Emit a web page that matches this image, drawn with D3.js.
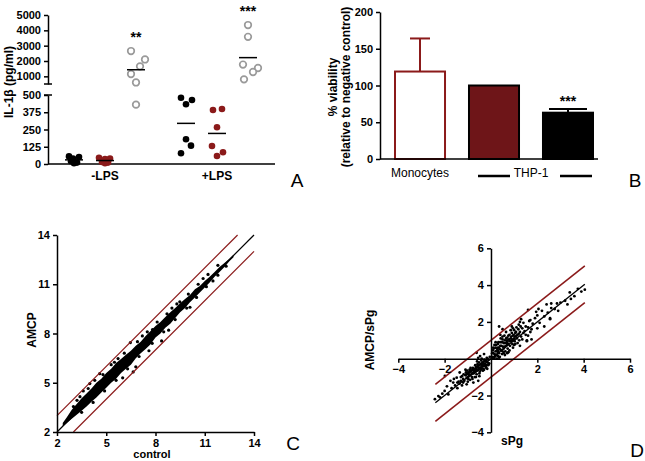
<!DOCTYPE html>
<html><head><meta charset="utf-8">
<script src="https://cdn.jsdelivr.net/npm/d3@7"></script>
<style>
body{margin:0;background:#fff;}
svg{display:block;font-family:"Liberation Sans",Arial,sans-serif;}
.axis path,.axis line{stroke:#000;stroke-width:1.5;}
</style></head><body>
<svg id="fig" width="645" height="461"></svg>
<script>
// ---------- Panel A data ----------
const ilGroups = ["-LPS", "+LPS"];
const ilSeries = ["black", "red", "gray"];
const ilMinusBlack = [55, 50, 40, 20, 10, 5];
const ilMinusRed = [45, 40, 35, 15, 10, 5];
const ilMinusGray = [2650, 2100, 1650, 1150, 600, 430];
const ilPlusBlack = [480, 433, 464, 179, 133, 78];
const ilPlusRed = [391, 399, 266, 130, 85, 58];
const ilPlusGray = [4344, 3577, 1767, 1544, 1282, 803];
const ilUpperTicks = [1000, 2000, 3000, 4000, 5000];
const ilLowerTicks = [0, 125, 250, 375, 500];
const ilStars = {"-LPS": "**", "+LPS": "***"};

// ---------- Panel B data ----------
const vCategories = ["Monocytes", "THP-1 a", "THP-1 b"];
const vValues = [119, 100, 63];
const vErrors = [45, 0, 5];
const vTicks = [0, 50, 100, 150, 200];

// ---------- Panel C data (cloud envelope + scattered points) ----------
const cTicks = [2, 5, 8, 11, 14];
const cCloudX  = [2.35,2.6,2.9,3.2,3.5,3.8,4.1,4.4,4.7,5.0,5.3,5.6,5.9,6.2,6.5,6.8,7.1,7.4,7.7,8.0,8.3,8.6,8.9,9.2,9.5,9.8,10.1,10.4,10.7,11.0,11.3,11.6,11.9,12.2,12.5,12.75];
const cCloudLo = [2.35,2.55,2.8,3.05,3.3,3.55,3.85,4.1,4.4,4.7,5.0,5.25,5.6,5.85,6.1,6.5,6.8,7.05,7.35,7.75,8.0,8.35,8.6,8.95,9.3,9.55,9.9,10.2,10.5,10.8,11.1,11.45,11.75,12.05,12.4,12.65];
const cCloudHi = [2.55,2.9,3.35,3.7,4.05,4.35,4.65,5.0,5.25,5.6,5.85,6.2,6.45,6.7,6.95,7.25,7.5,7.85,8.15,8.45,8.7,9.0,9.3,9.55,9.85,10.1,10.35,10.7,10.9,11.2,11.45,11.75,12.05,12.3,12.55,12.8];
const cOutX = [3.22,5.72,6.47,7.82,8.37,6.8,6.64,9.48,4.0,4.6,5.3,7.2,7.6,9.0,10.1,10.9,3.6,6.0,8.8,11.5,
  3.0,3.4,3.9,4.3,4.8,5.5,6.1,6.9,7.5,8.1,8.7,9.3,10.0,10.6,11.2,11.8,3.5,4.2,4.9,5.6,6.3,7.0,7.8,8.5,9.2,9.9,10.5,11.1,11.8,12.3];
const cOutY = [3.93,6.47,7.45,8.24,7.55,5.97,5.66,9.93,4.95,5.55,6.1,7.85,6.95,9.55,9.6,11.35,4.5,5.3,8.2,11.2,
  3.55,4.15,4.65,5.15,5.5,6.25,6.8,7.5,8.1,8.7,9.2,9.8,10.4,11.0,11.6,12.15,3.2,3.8,4.5,5.15,5.85,6.6,7.4,8.1,8.85,9.55,10.2,10.85,11.55,12.1];

// ---------- Panel D data ----------
const dTicks = [-4, -2, 2, 4, 6];
const dX = [-0.1,-0.15,-0.2,-0.25,-0.3,-0.35,-0.4,-0.45,-0.5,-0.55,-0.6,-0.65,-0.7,-0.75,-0.8,-0.85,-0.9,-0.95,-1.0,-1.05,-1.1,-1.2,-1.3,-1.4,-0.12,-0.18,-0.28,-0.33,-0.42,-0.48,-0.52,-0.58,-0.62,-0.68,-0.72,-0.78,-0.82,-0.88,-0.92,-0.98,-1.02,-1.08,-1.15,-1.18,-1.25,-1.35,-0.22,-0.38,-0.44,-0.56,-0.64,-0.74,-0.86,-0.96,-0.08,-0.3,-0.5,-0.7,-0.9,-0.16,
 -0.1,-0.2,-0.3,-0.4,-0.5,-0.6,-0.7,-0.8,-0.9,-1.0,-0.15,-0.25,-0.35,-0.45,-0.55,-0.65,-0.75,-0.85,-0.95,-1.05,-0.2,-0.35,-0.5,-0.65,-0.8,-1.0,-1.2,-1.1,-1.3,-1.45,-0.05,-0.4,-0.55,-0.6,-0.3,
 0.05,0.1,0.15,0.2,0.25,0.3,0.35,0.4,0.45,0.5,0.55,0.6,0.65,0.7,0.75,0.8,0.85,0.9,0.95,1.0,1.05,1.1,1.15,1.2,1.25,1.3,1.35,1.4,1.45,1.5,0.12,0.18,0.22,0.28,0.32,0.38,0.42,0.48,0.52,0.58,0.62,0.68,0.72,0.78,0.82,0.88,0.92,0.98,1.02,1.08,1.12,1.18,1.22,1.28,0.08,0.3,0.55,0.75,0.95,1.6,1.7,1.65,1.8,1.9,1.55,0.4,0.65,0.2,0.9,1.0,
 0.1,0.15,0.25,0.35,0.45,0.5,0.6,0.7,0.8,0.85,0.95,1.05,1.15,1.25,1.35,1.4,1.5,1.6,1.7,1.75,0.3,0.4,0.5,0.6,0.7,0.8,0.9,1.0,1.1,1.2,0.15,0.25,0.35,0.45,0.55,0.65,0.75,0.85,0.95,1.05,0.2,0.3,0.4,0.5,0.6,0.7,0.05,0.1,0.2,0.3,
 2.0,2.1,2.2,2.3,2.45,2.55,2.6,2.75,2.85,2.9,3.0,3.2,3.3,3.4,3.45,3.6,3.75,3.9,4.05,1.6,1.3,2.05,2.55,1.25,1.55,1.75,2.3,0.5,0.35,2.6,2.0,1.95,2.4,
 -2.42,-2.27,-1.84,-1.63,-1.99,-1.48,-1.05,-0.76,-0.62,-0.47,-1.7,-1.55,-2.1,-1.9,-1.45,-1.25,-1.6,-2.2,-0.3,-1.35,-0.55,-1.75,-2.0];
const dY = [-0.05,-0.2,-0.1,-0.3,-0.15,-0.4,-0.25,-0.5,-0.35,-0.6,-0.45,-0.7,-0.55,-0.8,-0.6,-0.85,-0.7,-0.95,-0.8,-1.05,-0.9,-1.1,-1.0,-1.25,-0.35,0.05,-0.05,-0.55,-0.1,-0.7,-0.2,-0.3,-0.85,-0.35,-0.65,-0.5,-1.0,-0.5,-0.6,-1.1,-0.65,-0.75,-1.2,-0.85,-0.95,-1.35,-0.45,-0.35,-0.6,-0.45,-0.55,-0.75,-0.7,-0.85,-0.25,-0.6,-0.8,-1.0,-1.15,-0.55,
 -0.3,-0.35,-0.4,-0.5,-0.55,-0.65,-0.75,-0.8,-0.9,-1.0,0.0,-0.15,-0.2,-0.3,-0.4,-0.45,-0.6,-0.65,-0.75,-0.85,-0.5,-0.65,-0.95,-1.0,-1.1,-1.25,-1.3,-0.6,-1.2,-1.3,0.1,0.0,0.05,-0.15,-0.3,
 0.1,0.3,0.05,0.4,0.2,0.6,0.3,0.7,0.45,0.9,0.55,1.0,0.7,1.15,0.8,1.3,0.95,1.4,1.05,1.55,1.2,1.7,1.3,1.85,1.45,1.2,1.65,1.95,1.5,1.3,0.55,0.15,0.75,0.45,0.9,0.1,1.1,0.25,0.65,1.25,0.4,0.9,0.55,1.05,0.7,1.2,0.8,1.3,0.95,1.45,1.1,1.6,1.0,1.75,0.45,0.15,0.3,0.35,0.6,1.7,1.45,2.05,1.9,2.2,1.0,1.3,1.45,0.9,1.75,0.75,
 0.6,0.75,0.0,0.05,0.9,1.2,0.2,0.3,0.45,1.55,1.65,0.8,0.85,2.0,1.05,1.4,1.75,1.25,2.1,1.6,0.35,0.5,0.4,0.65,0.8,0.95,1.0,1.1,1.25,1.35,0.25,0.55,0.6,0.7,0.85,1.1,1.25,1.1,1.25,1.4,0.6,0.8,0.9,1.05,0.85,1.0,0.3,0.0,0.2,0.45,
 2.35,1.95,2.6,2.3,2.5,2.15,2.75,2.7,3.0,2.6,3.05,3.15,2.95,3.6,3.25,3.4,3.8,3.65,3.75,2.65,2.15,2.7,2.2,0.7,0.95,1.05,1.75,1.6,1.75,3.0,1.65,2.55,2.95,
 -2.2,-2.03,-1.94,-1.3,-0.94,-1.03,-1.39,-1.3,0.32,0.14,-1.6,-1.45,-1.9,-1.5,-1.6,-1.45,-1.1,-2.1,0.25,-0.75,-1.2,-1.2,-1.75];

const RED = "#8b1a1a";
const TICK_FS = "11px";
const LABEL_FS = "12px";
const svg = d3.select("#fig");

function styleAxis(g){
  g.attr("class","axis");
  g.selectAll(".tick text").attr("font-weight","bold").style("font-size",TICK_FS).attr("fill","#000");
}

// ================= Panel A =================
(function(){
  const g = svg.append("g");
  const yUp = d3.scaleLinear().domain([500, 5000]).range([84, 15]);
  const yLo = d3.scaleLinear().domain([0, 500]).range([164, 95]);
  const yv = v => v > 500 ? yUp(v) : yLo(v);
  const xOuter = d3.scalePoint().domain(ilGroups).range([48, 274]).padding(0.509);
  const xInner = d3.scalePoint().domain(ilSeries).range([-31, 31]);
  const jitter = {
    "-LPS": {black:[-5,5,-1,-3,3,0], red:[-6,5,0,-3,3,0], gray:[-5,9,4,-5,0,0]},
    "+LPS": {black:[-5,0,6,0,5,-5], red:[-4,5,0,-5,6,0], gray:[0,0,-5,10,5,-4]}
  };
  const data = {
    "-LPS": {black: ilMinusBlack, red: ilMinusRed, gray: ilMinusGray},
    "+LPS": {black: ilPlusBlack, red: ilPlusRed, gray: ilPlusGray}
  };
  g.append("g").attr("transform","translate(48,0)")
    .call(d3.axisLeft(yUp).tickValues(ilUpperTicks).tickSize(4).tickSizeOuter(0).tickFormat(d3.format("d")))
    .call(styleAxis);
  g.append("g").attr("transform","translate(48,0)")
    .call(d3.axisLeft(yLo).tickValues(ilLowerTicks).tickSize(4).tickSizeOuter(0).tickFormat(d3.format("d")))
    .call(styleAxis);
  g.append("line").attr("x1",44).attr("x2",52).attr("y1",yUp(500)).attr("y2",yUp(500)).attr("stroke","#000").attr("stroke-width",1.5);
  g.append("line").attr("x1",44).attr("x2",52).attr("y1",yLo(500)).attr("y2",yLo(500)).attr("stroke","#000").attr("stroke-width",1.5);
  g.append("line").attr("x1",48).attr("x2",275).attr("y1",yLo(0)).attr("y2",yLo(0)).attr("stroke","#000").attr("stroke-width",1.5);
  ilGroups.forEach(grp=>{
    g.append("text").attr("x",xOuter(grp)).attr("y",180).attr("text-anchor","middle")
      .attr("font-weight","bold").attr("font-size",LABEL_FS).text(grp);
    ilSeries.forEach(s=>{
      const cx = xOuter(grp) + xInner(s);
      const vals = data[grp][s];
      vals.forEach((v,i)=>{
        const c = g.append("circle").attr("cx", cx + jitter[grp][s][i]).attr("cy", yv(v)).attr("r", 3.3);
        if (s==="gray") c.attr("fill","#fff").attr("stroke","#9a9a9a").attr("stroke-width",1.7);
        else c.attr("fill", s==="black" ? "#000" : RED);
      });
      const m = d3.mean(vals);
      g.append("line").attr("x1",cx-9).attr("x2",cx+9).attr("y1",yv(m)).attr("y2",yv(m))
        .attr("stroke","#000").attr("stroke-width",1.5);
      if (s==="gray") {
        g.append("text").attr("x",cx).attr("y", yv(d3.max(vals)) - 9).attr("text-anchor","middle")
          .attr("font-weight","bold").attr("font-size","14px").text(ilStars[grp]);
      }
    });
  });
  g.append("text").attr("transform","translate(13,82) rotate(-90)").attr("text-anchor","middle")
    .attr("font-weight","bold").attr("font-size",LABEL_FS).text("IL-1β (pg/ml)");
  g.append("text").attr("x",297).attr("y",187).attr("text-anchor","middle").attr("font-size","19px").text("A");
})();

// ================= Panel B =================
(function(){
  const g = svg.append("g");
  const y = d3.scaleLinear().domain([0, 200]).range([159, 12]);
  const x = d3.scaleBand().domain(vCategories).range([380, 608]).paddingInner(0.324).paddingOuter(0.2027);
  const fills = ["#fff", "#6e1518", "#000"];
  const strokes = [RED, "#000", "#000"];
  const capW = [20, 0, 38];
  vCategories.forEach((c,i)=>{
    if (vErrors[i] > 0) {
      const cx = x(c) + x.bandwidth()/2;
      g.append("line").attr("x1",cx).attr("x2",cx).attr("y1",y(vValues[i])).attr("y2",y(vValues[i]+vErrors[i]))
        .attr("stroke",strokes[i]).attr("stroke-width",2);
      g.append("line").attr("x1",cx-capW[i]/2).attr("x2",cx+capW[i]/2).attr("y1",y(vValues[i]+vErrors[i])).attr("y2",y(vValues[i]+vErrors[i]))
        .attr("stroke",strokes[i]).attr("stroke-width",2);
    }
    g.append("rect").attr("x",x(c)).attr("y",y(vValues[i])).attr("width",x.bandwidth()).attr("height",y(0)-y(vValues[i]))
      .attr("fill",fills[i]).attr("stroke",strokes[i]).attr("stroke-width",2);
  });
  g.append("text").attr("x",x("THP-1 b")+x.bandwidth()/2).attr("y",y(vValues[2]+vErrors[2])-3).attr("text-anchor","middle")
    .attr("font-weight","bold").attr("font-size","14px").text("***");
  g.append("g").attr("transform","translate(380,0)")
    .call(d3.axisLeft(y).tickValues(vTicks).tickSize(4).tickSizeOuter(0)).call(styleAxis);
  g.append("line").attr("x1",380).attr("x2",598).attr("y1",y(0)).attr("y2",y(0)).attr("stroke","#000").attr("stroke-width",1.5);
  g.append("text").attr("x",x("Monocytes")+x.bandwidth()/2).attr("y",177).attr("text-anchor","middle").attr("font-size",LABEL_FS).text("Monocytes");
  const thpMid = (x("THP-1 a") + x("THP-1 b") + x.bandwidth())/2;
  g.append("text").attr("x",thpMid).attr("y",177).attr("text-anchor","middle").attr("font-size",LABEL_FS).text("THP-1");
  g.append("line").attr("x1",478).attr("x2",510).attr("y1",176).attr("y2",176).attr("stroke","#000").attr("stroke-width",2.5);
  g.append("line").attr("x1",560).attr("x2",592).attr("y1",176).attr("y2",176).attr("stroke","#000").attr("stroke-width",2.5);
  g.append("text").attr("transform","translate(337,87) rotate(-90)").attr("text-anchor","middle")
    .attr("font-weight","bold").attr("font-size",LABEL_FS).text("% viability");
  g.append("text").attr("transform","translate(350,87) rotate(-90)").attr("text-anchor","middle")
    .attr("font-weight","bold").attr("font-size",LABEL_FS).text("(relative to negative control)");
  g.append("text").attr("x",635).attr("y",187).attr("text-anchor","middle").attr("font-size","19px").text("B");
})();

// ================= Panel C =================
(function(){
  const g = svg.append("g");
  const x = d3.scaleLinear().domain([2,14]).range([57,254]);
  const y = d3.scaleLinear().domain([2,14]).range([432,235]);
  const cloud = cCloudX.map((v,i)=>({x:v, lo:cCloudLo[i], hi:cCloudHi[i]}));
  g.append("line").attr("x1",x(2)).attr("y1",y(2)).attr("x2",x(14)).attr("y2",y(14)).attr("stroke","#000").attr("stroke-width",1.2);
  g.append("path").datum(cloud).attr("fill","#000")
    .attr("d", d3.area().x(d=>x(d.x)).y0(d=>y(d.lo)).y1(d=>y(d.hi)));
  g.selectAll("circle.o").data(cOutX).enter().append("circle")
    .attr("cx",(d)=>x(d)).attr("cy",(d,i)=>y(cOutY[i])).attr("r",1.6).attr("fill","#000");
  g.append("line").attr("x1",x(2)).attr("y1",y(3)).attr("x2",x(13)).attr("y2",y(14)).attr("stroke",RED).attr("stroke-width",1.2);
  g.append("line").attr("x1",x(3)).attr("y1",y(2)).attr("x2",x(14)).attr("y2",y(13)).attr("stroke",RED).attr("stroke-width",1.2);
  g.append("g").attr("transform","translate(57,0)")
    .call(d3.axisLeft(y).tickValues(cTicks).tickSize(4).tickSizeOuter(0)).call(styleAxis);
  g.append("g").attr("transform","translate(0,432)")
    .call(d3.axisBottom(x).tickValues(cTicks).tickSize(4).tickSizeOuter(0)).call(styleAxis);
  g.append("text").attr("x",152).attr("y",458).attr("text-anchor","middle").attr("font-weight","bold").attr("font-size","11px").text("control");
  g.append("text").attr("transform","translate(36,330) rotate(-90)").attr("text-anchor","middle")
    .attr("font-weight","bold").attr("font-size",LABEL_FS).text("AMCP");
  g.append("text").attr("x",293).attr("y",450).attr("text-anchor","middle").attr("font-size","19px").text("C");
})();

// ================= Panel D =================
(function(){
  const g = svg.append("g");
  const x = d3.scaleLinear().domain([-4,6]).range([398.3,630]);
  const y = d3.scaleLinear().domain([-4,6]).range([432.3,248.3]);
  g.append("line").attr("x1",x(-2.4)).attr("y1",y(-2.4)).attr("x2",x(4.05)).attr("y2",y(4.05)).attr("stroke","#000").attr("stroke-width",1.3);
  g.selectAll("circle.p").data(dX).enter().append("circle")
    .attr("cx",d=>x(d)).attr("cy",(d,i)=>y(dY[i])).attr("r",1.4).attr("fill","#000");
  g.append("line").attr("x1",x(-2.4)).attr("y1",y(-1.4)).attr("x2",x(4.05)).attr("y2",y(5.05)).attr("stroke",RED).attr("stroke-width",1.6);
  g.append("line").attr("x1",x(-2.4)).attr("y1",y(-3.4)).attr("x2",x(4.05)).attr("y2",y(3.05)).attr("stroke",RED).attr("stroke-width",1.6);
  g.append("g").attr("transform",`translate(${x(0)},0)`)
    .call(d3.axisLeft(y).tickValues(dTicks).tickSize(4).tickSizeOuter(0)).call(styleAxis);
  g.append("g").attr("transform",`translate(0,${y(0)})`)
    .call(d3.axisBottom(x).tickValues(dTicks).tickSize(4).tickSizeOuter(0)).call(styleAxis);
  g.append("text").attr("x",512).attr("y",445).attr("text-anchor","middle").attr("font-weight","bold").attr("font-size",LABEL_FS).text("sPg");
  g.append("text").attr("transform","translate(374,340) rotate(-90)").attr("text-anchor","middle")
    .attr("font-weight","bold").attr("font-size",LABEL_FS).text("AMCP/sPg");
  g.append("text").attr("x",637).attr("y",457).attr("text-anchor","middle").attr("font-size","19px").text("D");
})();
</script>
</body></html>
